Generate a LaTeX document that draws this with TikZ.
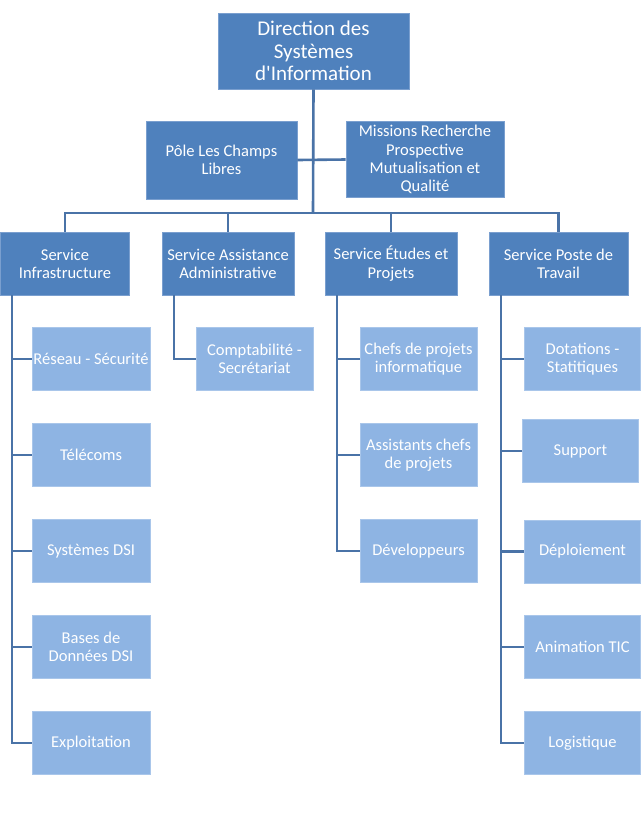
\documentclass[tikz,border=0pt]{standalone}
\usepackage{fontspec}
\setmainfont{Carlito}[Ligatures=TeXOff]
\definecolor{dkfill}{HTML}{4F81BD}
\definecolor{dkline}{HTML}{7A9FCF}
\definecolor{ltfill}{HTML}{8EB4E3}
\definecolor{ltline}{HTML}{A9C6EA}
\definecolor{conn}{HTML}{4A73A7}
\begin{document}
\begin{tikzpicture}[x=1pt,y=-1pt,
  dk/.style={rectangle, fill=dkfill, draw=dkline, line width=0.8pt, text=white, align=center,
    font=\fontsize{16.5}{18.2}\selectfont, inner sep=1pt},
  lt/.style={rectangle, fill=ltfill, draw=ltline, line width=0.8pt, text=white, align=center,
    font=\fontsize{16.5}{18.2}\selectfont, inner sep=1pt, minimum width=117pt, minimum height=63pt},
  cn/.style={draw=conn, line width=2.6pt}]
\path[use as bounding box, fill=white] (0,0) rectangle (641,815);

% level 0/1
\node[dk, minimum width=191pt, minimum height=76pt, font=\fontsize{21}{22.5}\selectfont] (top) at (313.5,51) {Direction des\\Systèmes\\d'Information};
\node[dk, minimum width=151pt, minimum height=78pt] (pole) at (221.5,160) {Pôle Les Champs\\Libres};
\node[dk, minimum width=158pt, minimum height=76pt] (miss) at (425,159.5) {Missions Recherche\\Prospective\\Mutualisation et\\Qualité};

% level 2
\node[dk, minimum width=129pt, minimum height=63pt] (infra) at (65,263.5) {Service\\Infrastructure};
\node[dk, minimum width=132pt, minimum height=63pt] (assist) at (228,263.5) {Service Assistance\\Administrative};
\node[dk, minimum width=132pt, minimum height=63pt] (etudes) at (391,263.5) {Service Études et\\Projets};
\node[dk, minimum width=139pt, minimum height=63pt] (poste) at (558.5,263.5) {Service Poste de\\Travail};

% level 3 infra
\node[lt, minimum width=118pt] (reseau) at (91,359) {Réseau - Sécurité};
\node[lt, minimum width=118pt] (telecom) at (91,455) {Télécoms};
\node[lt, minimum width=118pt] (systemes) at (91,551) {Systèmes DSI};
\node[lt, minimum width=118pt] (bases) at (91,647) {Bases de\\Données DSI};
\node[lt, minimum width=118pt] (exploit) at (91,743) {Exploitation};

% level 3 assistance
\node[lt] (compta) at (254.5,359) {Comptabilité -\\Secrétariat};

% level 3 etudes
\node[lt] (chefs) at (418.5,359) {Chefs de projets\\informatique};
\node[lt] (assch) at (418.5,455) {Assistants chefs\\de projets};
\node[lt] (dev) at (418.5,551) {Développeurs};

% level 3 poste
\node[lt, minimum width=116pt] (dot) at (582.5,359) {Dotations -\\Statitiques};
\node[lt, minimum width=116pt] (support) at (580.5,451) {Support};
\node[lt, minimum width=116pt] (deploi) at (582.5,551.5) {Déploiement};
\node[lt, minimum width=116pt] (anim) at (582.5,647) {Animation TIC};
\node[lt, minimum width=116pt] (logist) at (582.5,743) {Logistique};

% connectors
\coordinate (bus) at (313,213);
\draw[cn] (top.south) -- (bus);
\draw[cn] (pole.east) -- (miss.west);
\draw[cn] (infra.north) |- (bus) -| (poste.north);
\draw[cn] (assist.north) -- (assist.north |- bus);
\draw[cn] (etudes.north) -- (etudes.north |- bus);

\coordinate (iv) at (12,295);
\draw[cn] (iv) |- (exploit.west);
\foreach \n in {reseau,telecom,systemes,bases} \draw[cn] (\n.west) -- (\n.west -| iv);

\coordinate (av) at (174,295);
\draw[cn] (av) |- (compta.west);

\coordinate (ev) at (337,295);
\draw[cn] (ev) |- (dev.west);
\foreach \n in {chefs,assch} \draw[cn] (\n.west) -- (\n.west -| ev);

\coordinate (pv) at (501,295);
\draw[cn] (pv) |- (logist.west);
\foreach \n in {dot,support,deploi,anim} \draw[cn] (\n.west) -- (\n.west -| pv);
\end{tikzpicture}
\end{document}
